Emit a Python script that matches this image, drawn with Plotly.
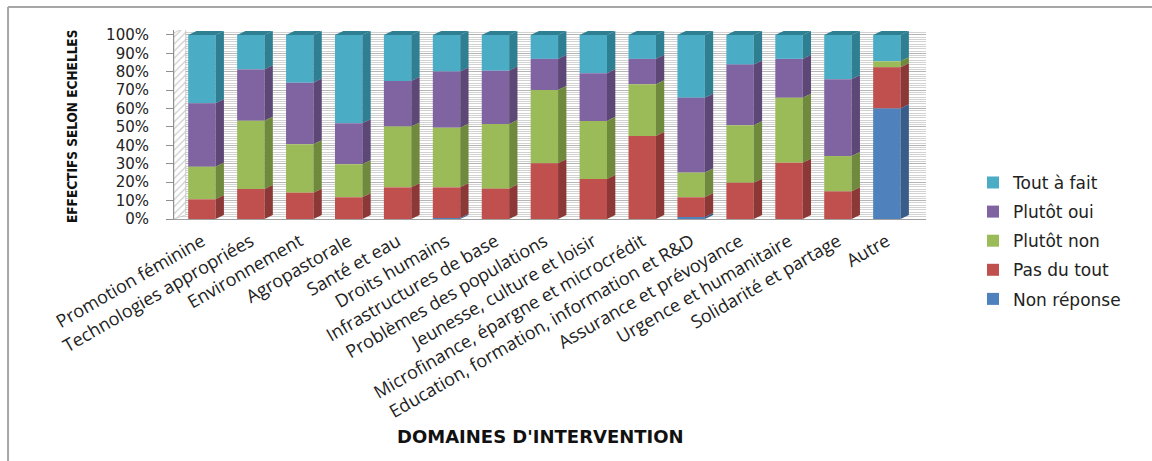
import plotly.graph_objects as go

categories = [
    "Promotion féminine", "Technologies appropriées", "Environnement", "Agropastorale",
    "Santé et eau", "Droits humains", "Infrastructures de base", "Problèmes des populations",
    "Jeunesse, culture et loisir", "Microfinance, épargne et microcrédit",
    "Education, formation, information et R&D", "Assurance et prévoyance",
    "Urgence et humanitaire", "Solidarité et partage", "Autre",
]
non_reponse = [0, 0, 0, 0, 0, 0.5, 0, 0, 0, 0, 1.0, 0, 0, 0, 60.1]
pas_du_tout = [10.7, 16.3, 14.3, 11.8, 17.2, 16.7, 16.5, 30.3, 21.7, 45.1, 10.8, 19.7, 30.6, 15.0, 22.3]
plutot_non = [17.7, 37.1, 26.3, 17.9, 33.0, 32.4, 35.1, 39.8, 31.6, 28.1, 13.4, 31.2, 35.3, 19.2, 3.3]
plutot_oui = [34.5, 27.9, 33.5, 22.3, 24.8, 30.5, 29.0, 16.9, 25.9, 13.8, 40.7, 33.0, 21.1, 41.7, 0]
tout_a_fait = [37.1, 18.7, 25.9, 48.0, 25.0, 19.9, 19.4, 13.0, 20.8, 13.0, 34.1, 16.1, 13.0, 24.1, 14.3]
y_ticks = [0, 10, 20, 30, 40, 50, 60, 70, 80, 90, 100]
y_tick_labels = [f"{v}%" for v in y_ticks]

# stacking order: bottom to top
series = [
    ("Non réponse", non_reponse, "#4F81BD", "#385D8A"),
    ("Pas du tout", pas_du_tout, "#C0504D", "#8C3836"),
    ("Plutôt non", plutot_non, "#9BBB59", "#6F8A3C"),
    ("Plutôt oui", plutot_oui, "#8064A2", "#5C4776"),
    ("Tout à fait", tout_a_fait, "#4BACC6", "#2F7F93"),
]

W = 0.56   # front face width (category units)
DX = 0.17  # depth offset x
DY = 2.2   # depth offset y (%)
X_MIN, X_MAX = -0.57, 14.8
Y_MAX = 102.7

xs = list(range(len(categories)))

# compute bases from the data
bases = []
cum = [0.0] * len(categories)
top_color = [None] * len(categories)
for name, vals, col, side in series:
    bases.append(cum[:])
    for i, v in enumerate(vals):
        if v > 0:
            top_color[i] = side
    cum = [c + v for c, v in zip(cum, vals)]

fig = go.Figure()

# left wall (hatched)
fig.add_trace(go.Scatter(
    x=[X_MIN, X_MIN + 0.24, X_MIN + 0.24, X_MIN, X_MIN],
    y=[0, DY, 100 + DY * 2, 100 + DY * 0.5, 0],
    mode="lines", fill="toself", fillcolor="white",
    fillpattern=dict(shape="/", fgcolor="#9a9a9a", bgcolor="white", size=5, solidity=0.25),
    line=dict(width=0.6, color="#b0b0b0"), showlegend=False, hoverinfo="skip",
))

# legend order: top series first
for k in reversed(range(len(series))):
    name, vals, col, side = series[k]
    base = bases[k]
    fig.add_trace(go.Bar(
        x=xs, y=vals, base=base, width=W, name=name, legendgroup=name,
        marker=dict(color=col, line=dict(width=0)), hoverinfo="skip",
    ))
    px, py = [], []
    for i, v in enumerate(vals):
        if v <= 0:
            continue
        b = base[i]
        x1 = i + W / 2
        px += [x1, x1 + DX, x1 + DX, x1, x1, None]
        py += [b, b + DY, b + v + DY, b + v, b, None]
    fig.add_trace(go.Scatter(
        x=px, y=py, mode="lines", fill="toself", fillcolor=side,
        line=dict(width=0, color=side), showlegend=False, legendgroup=name,
        hoverinfo="skip",
    ))

# top faces of columns
for col in set(top_color):
    px, py = [], []
    for i in xs:
        if top_color[i] != col:
            continue
        h = cum[i]
        x0 = i - W / 2
        x1 = i + W / 2
        px += [x0, x0 + DX, x1 + DX, x1, x0, None]
        py += [h, h + DY, h + DY, h, h, None]
    fig.add_trace(go.Scatter(
        x=px, y=py, mode="lines", fill="toself", fillcolor=col,
        line=dict(width=0, color=col), showlegend=False, hoverinfo="skip",
    ))

fig.update_layout(
    width=1152, height=461,
    margin=dict(l=174, r=226, t=30, b=242),
    paper_bgcolor="white", plot_bgcolor="white",
    barmode="overlay",
    showlegend=True,
    legend=dict(
        x=1.0625, y=0.286, xanchor="left", yanchor="top",
        traceorder="grouped", tracegroupgap=4,
        font=dict(family="DejaVu Sans", size=17, color="#222"),
        bgcolor="rgba(0,0,0,0)",
    ),
    xaxis=dict(
        range=[X_MIN, X_MAX], tickmode="array", tickvals=xs, ticktext=categories,
        tickangle=-30, showgrid=False, zeroline=False, showline=True,
        linecolor="#a0a0a0", linewidth=1, ticks="", automargin=False,
        tickfont=dict(family="Open Sans", size=18, color="#222"),
        ticklabelstandoff=4,
    ),
    yaxis=dict(
        range=[0, Y_MAX], tickmode="array", tickvals=y_ticks, ticktext=y_tick_labels,
        showgrid=True, gridcolor="#b5b5b5", gridwidth=1,
        minor=dict(dtick=1.25, showgrid=True, gridcolor="#d2d2d2", gridwidth=1),
        zeroline=False, showline=True, linecolor="#909090", linewidth=1,
        ticks="outside", ticklen=7, tickcolor="#909090", automargin=False,
        tickfont=dict(family="DejaVu Sans", size=15, color="#222"),
        ticklabelstandoff=14,
    ),
    annotations=[
        dict(text="<b>EFFECTIFS SELON ECHELLES</b>", xref="paper", yref="paper",
             x=-0.1356, y=0.487, textangle=-90, showarrow=False,
             xanchor="center", yanchor="middle",
             font=dict(family="DejaVu Sans Condensed, Liberation Sans Narrow, sans-serif",
                       size=13.5, color="#111")),
        dict(text="<b>DOMAINES D'INTERVENTION</b>", xref="paper", yref="paper",
             x=0.488, y=-1.153, showarrow=False, xanchor="center", yanchor="middle",
             font=dict(family="DejaVu Sans", size=18, color="#111")),
    ],
    shapes=[
        dict(type="line", xref="paper", yref="paper", x0=-0.2207, x1=1.31,
             y0=1.1217, y1=1.1217, line=dict(color="#a6a6a6", width=2)),
        dict(type="line", xref="paper", yref="paper", x0=-0.2207, x1=-0.2207,
             y0=1.1217, y1=-1.3, line=dict(color="#a6a6a6", width=2)),
    ],
)

fig.write_html("out.html")
